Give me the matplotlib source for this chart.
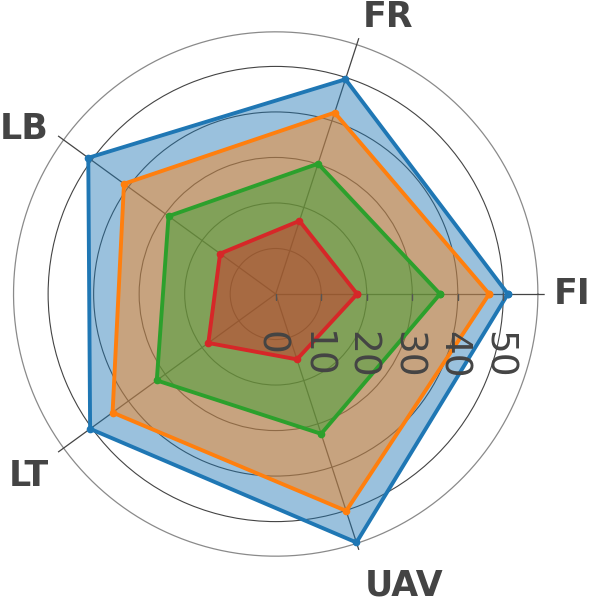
import numpy as np
import matplotlib.pyplot as plt
from matplotlib.transforms import ScaledTranslation

# categories and values
categories = ['FI', 'FR', 'LB', 'LT', 'UAV']
series_blue = [51.0, 49.6, 50.9, 50.4, 57.4]
series_orange = [46.9, 41.9, 41.2, 44.3, 50.1]
series_green = [36.1, 30.1, 29.1, 32.3, 32.3]
series_red = [17.9, 16.9, 15.1, 18.3, 15.1]
r_ticks = [0, 10, 20, 30, 40, 50]

colors = ['#1f77b4', '#ff7f0e', '#2ca02c', '#d62728']
text_color = '#444444'

angles = np.linspace(0, 2 * np.pi, len(categories), endpoint=False)

fig = plt.figure(figsize=(5.98, 5.98), dpi=100)
ax = fig.add_axes([0.0112, 0.0585, 0.8997, 0.8997], projection='polar')
ax.set_ylim(0, 59.1)
ax.spines['polar'].set_visible(False)
ax.set_xticks(angles)
ax.set_xticklabels([])
ax.set_yticks(r_ticks[1:])
ax.set_yticklabels([])
ax.tick_params(axis='both', length=0)
ax.xaxis.grid(True, color='#444444', lw=0.9)
ax.yaxis.grid(True, color='#444444', lw=0.8)
ax.set_axisbelow(True)

# outer light ring
ring = np.linspace(0, 2 * np.pi, 400)
ax.plot(ring, np.full_like(ring, 57.6), color='#8a8a8a', lw=0.9, zorder=0.5)

# polygons
for vals, c in zip([series_blue, series_orange, series_green, series_red], colors):
    th = np.append(angles, angles[0])
    v = np.append(vals, vals[0])
    ax.fill(th, v, color=c, alpha=0.45, lw=0)
    ax.plot(th, v, color=c, lw=2.8, marker='o', ms=4.5)

# radial axis along FI with downward ticks
ax.plot(np.zeros(len(r_ticks)), r_ticks, ls='none', marker=3, ms=4.5,
        mew=1.0, color='#555555', zorder=5)
shift = ax.transData + ScaledTranslation(-5.5 / 100, -37 / 100, fig.dpi_scale_trans)
for r in r_ticks:
    ax.text(0, r, str(r), rotation=-90, ha='center', va='top', fontsize=27,
            color=text_color, transform=shift, zorder=6)

# category labels
label_style = {
    'FI': (61.0, 'left', 'center'),
    'FR': (61.7, 'left', 'baseline'),
    'LB': (61.8, 'right', 'center'),
    'LT': (61.7, 'right', 'top'),
    'UAV': (63.4, 'left', 'top'),
}
for ang, name in zip(angles, categories):
    rr, ha, va = label_style[name]
    ax.text(ang, rr, name, ha=ha, va=va, fontsize=25, fontweight='bold',
            color=text_color, clip_on=False)

fig.savefig('out.png', dpi=100)
